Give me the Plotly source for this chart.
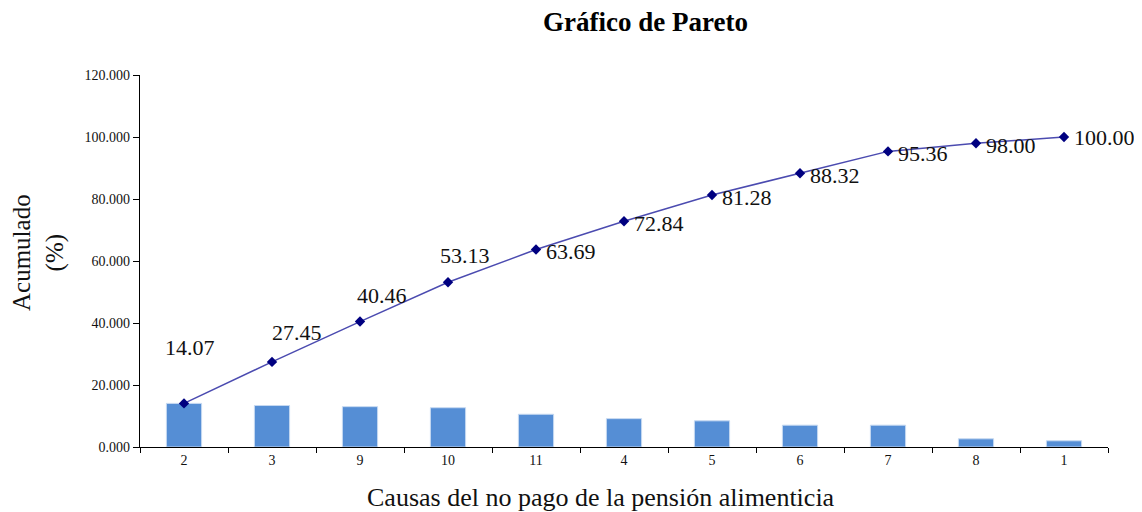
import plotly.graph_objects as go

causes = ["2", "3", "9", "10", "11", "4", "5", "6", "7", "8", "1"]
percent = [14.07, 13.38, 13.01, 12.67, 10.56, 9.15, 8.44, 7.04, 7.04, 2.64, 2.00]
cumulative = [14.07, 27.45, 40.46, 53.13, 63.69, 72.84, 81.28, 88.32, 95.36, 98.00, 100.00]
label_above = [True, True, True, True, False, False, False, False, False, False, False]
above_xshift = [6, 25, 22, 17]
above_yshift = [56, 29, 26, 27]

fig = go.Figure()
fig.add_trace(go.Bar(
    x=causes, y=percent, width=0.4,
    marker=dict(color="#558ed5", line=dict(color="#c6d9f1", width=1)),
    showlegend=False, hoverinfo="skip"))
fig.add_trace(go.Scatter(
    x=causes, y=cumulative, mode="lines+markers",
    line=dict(color="#4b4bb0", width=1.5),
    marker=dict(symbol="diamond", size=8, color="#000080"),
    showlegend=False))

serif = "Liberation Serif, Times New Roman, serif"
for i, v in enumerate(cumulative):
    if label_above[i]:
        fig.add_annotation(x=i, y=v, text=f"{v:.2f}", showarrow=False,
                           xanchor="center", yanchor="middle",
                           xshift=above_xshift[i], yshift=above_yshift[i],
                           font=dict(family=serif, size=22, color="#111111"))
    else:
        fig.add_annotation(x=i, y=v, text=f"{v:.2f}", showarrow=False,
                           xanchor="left", yanchor="middle",
                           xshift=8, yshift=-2 if i < 10 else 0,
                           font=dict(family=serif, size=22, color="#111111"))

# page body has an 8px margin; plot area in screenshot: x 140..1108, y 75..447
L, T, PW, PH = 132, 67, 968, 372
fig.add_annotation(xref="paper", yref="paper", x=(645 - 140) / PW, y=1,
                   yshift=53, text="<b>Gráfico de Pareto</b>", showarrow=False,
                   xanchor="center", yanchor="middle",
                   font=dict(family=serif, size=27, color="#000000"))
fig.add_annotation(xref="paper", yref="paper", x=(601 - 140) / PW, y=0,
                   yshift=-50, text="Causas del no pago de la pensión alimenticia",
                   showarrow=False, xanchor="center", yanchor="middle",
                   font=dict(family=serif, size=26, color="#111111"))
fig.add_annotation(xref="paper", yref="paper", x=0, y=0.5, xshift=-102, yshift=8,
                   text="Acumulado<br>(%)", showarrow=False, textangle=-90,
                   xanchor="center", yanchor="middle",
                   font=dict(family=serif, size=25, color="#111111"))

fig.update_layout(
    width=1134, height=504,
    margin=dict(l=L, r=1134 - L - PW, t=T, b=504 - T - PH, autoexpand=False),
    paper_bgcolor="white", plot_bgcolor="white",
    bargap=0.6,
    font=dict(family=serif, size=13, color="#111111"),
)
fig.update_xaxes(type="category", range=[-0.5, 10.5], showline=True,
                 linecolor="black", linewidth=1.2,
                 ticks="outside", ticklen=5, tickcolor="black", tickson="boundaries",
                 showgrid=False, zeroline=False, automargin=False,
                 tickfont=dict(family=serif, size=14))
fig.update_yaxes(range=[0, 120], dtick=20, tickformat=".3f", showline=True,
                 linecolor="black", linewidth=1.2, ticks="outside", ticklen=6,
                 tickcolor="black", showgrid=False, zeroline=False, automargin=False,
                 tickfont=dict(family=serif, size=14))

fig.write_html("out.html")
